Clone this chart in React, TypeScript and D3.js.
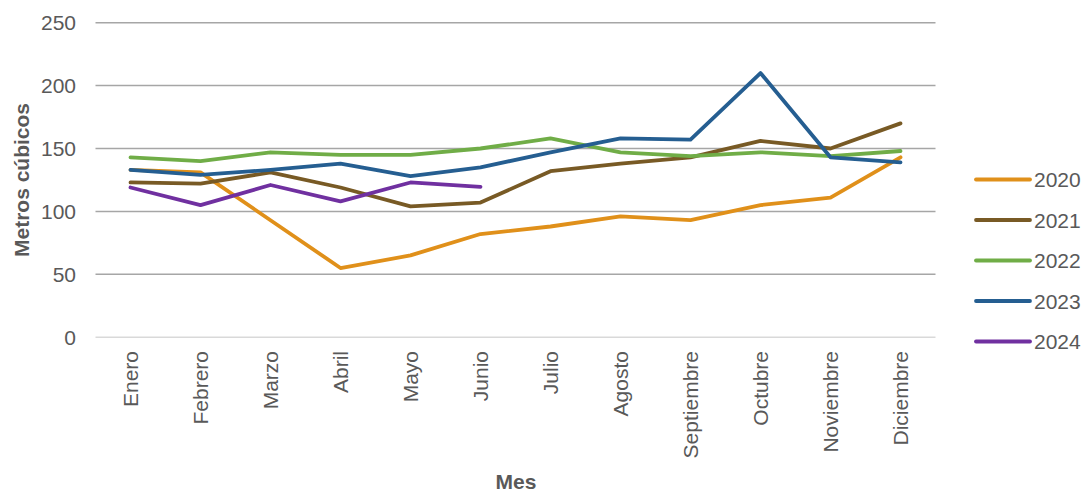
import React from "react";
import * as d3 from "d3";

const months = ["Enero", "Febrero", "Marzo", "Abril", "Mayo", "Junio", "Julio", "Agosto", "Septiembre", "Octubre", "Noviembre", "Diciembre"];
const s2020 = [133, 131, 93, 55, 65, 82, 88, 96, 93, 105, 111, 143];
const s2021 = [123, 122, 131, 119, 104, 107, 132, 138, 143, 156, 150, 170];
const s2022 = [143, 140, 147, 145, 145, 150, 158, 147, 144, 147, 144, 148];
const s2023 = [133, 129, 133, 138, 128, 135, 147, 158, 157, 210, 143, 139];
const s2024 = [119, 105, 121, 108, 123, 119.5];
const yTicks = [0, 50, 100, 150, 200, 250];
const seriesNames = ["2020", "2021", "2022", "2023", "2024"];
const seriesColors = ["#E0901A", "#785A25", "#70AD47", "#255E91", "#7030A0"];

export default function App() {
  const W = 1083, H = 492;
  const x = d3.scalePoint<string>().domain(months).range([95.5, 935.5]).padding(0.5);
  const y = d3.scaleLinear().domain([0, 250]).range([337.2, 22.7]);
  const series = [s2020, s2021, s2022, s2023, s2024];
  const line = d3.line<number>().x((_, i) => x(months[i]) as number).y((d) => y(d));
  const font = "'Liberation Sans', Arial, Helvetica, sans-serif";
  const textColor = "#595959";
  return (
    <svg width={W} height={H} style={{ position: "absolute", left: 0, top: 0, background: "#fff" }} fontFamily={font}>
      {yTicks.map((t) => (
        <g key={t}>
          <line x1={95.5} x2={935.5} y1={y(t)} y2={y(t)} stroke={t === 0 ? "#D9D9D9" : "#A6A6A6"} strokeWidth={1.5} />
          <text x={76} y={y(t)} dy="0.36em" textAnchor="end" fontSize={21} fill={textColor}>{t}</text>
        </g>
      ))}
      {months.map((m) => (
        <text key={m} transform={`translate(${x(m)},351) rotate(-90)`} textAnchor="end" dy="0.36em" fontSize={21} fill={textColor}>{m}</text>
      ))}
      {series.map((s, i) => (
        <path key={i} d={line(s) || ""} fill="none" stroke={seriesColors[i]} strokeWidth={3.8} strokeLinejoin="round" strokeLinecap="round" />
      ))}
      <text transform="translate(21,180) rotate(-90)" textAnchor="middle" dy="0.36em" fontSize={21} fontWeight="bold" fill={textColor}>Metros cúbicos</text>
      <text x={516} y={481} textAnchor="middle" dy="0.36em" fontSize={21} fontWeight="bold" fill={textColor}>Mes</text>
      {seriesNames.map((n, i) => {
        const ly = 179.5 + i * 40.5;
        return (
          <g key={n}>
            <line x1={976} x2={1030} y1={ly} y2={ly} stroke={seriesColors[i]} strokeWidth={3.8} strokeLinecap="round" />
            <text x={1034} y={ly} dy="0.36em" fontSize={21} fill={textColor}>{n}</text>
          </g>
        );
      })}
    </svg>
  );
}
